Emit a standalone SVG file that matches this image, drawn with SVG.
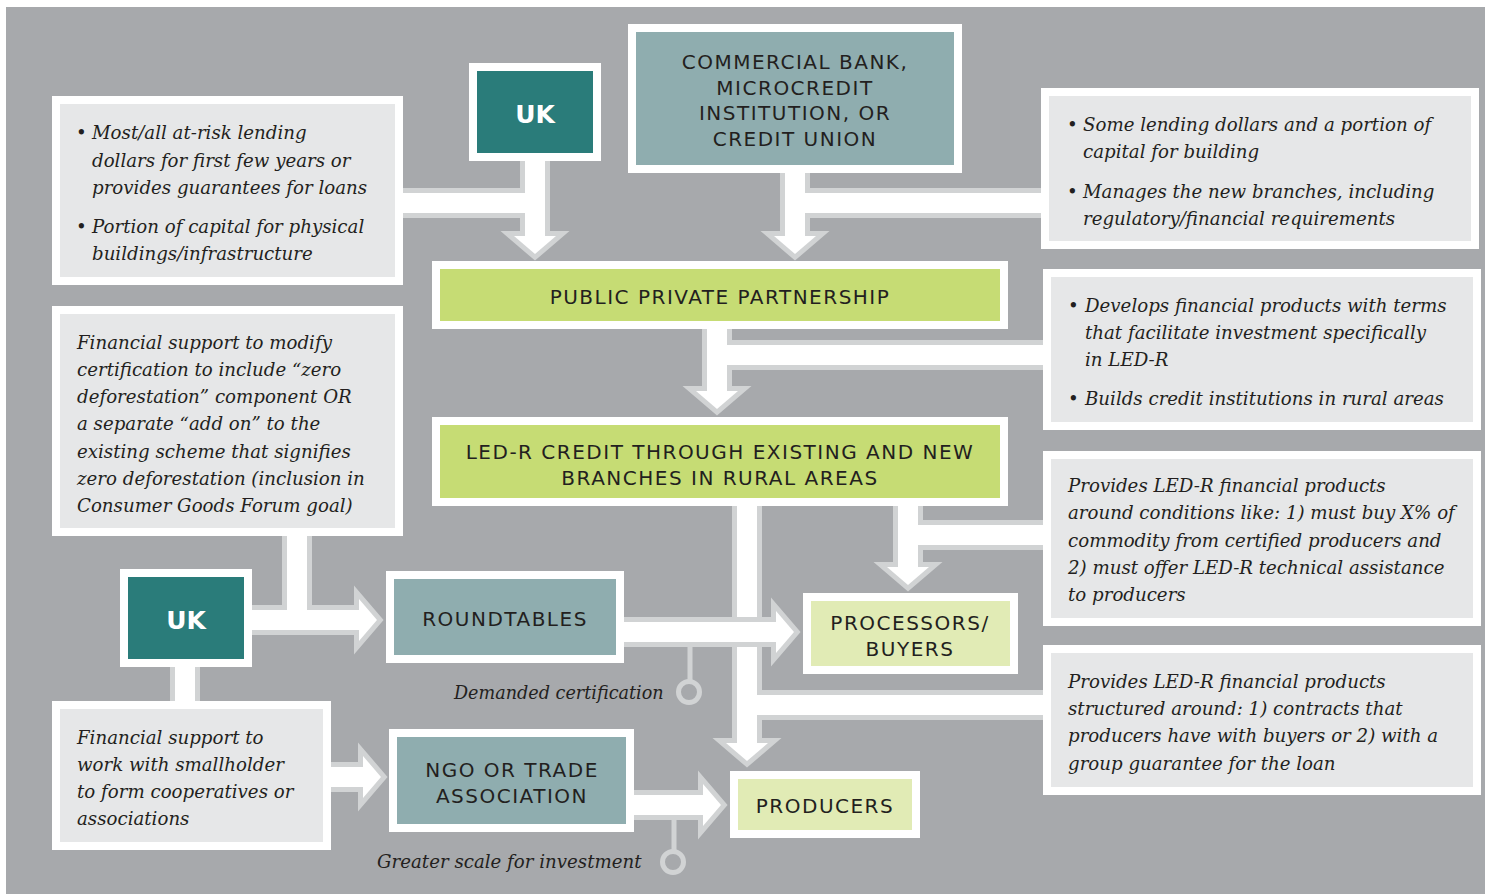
<svg xmlns="http://www.w3.org/2000/svg" xmlns:xlink="http://www.w3.org/1999/xlink" width="1485" height="894" viewBox="0 0 1485 894">
<defs>
<style>
.bg{fill:#a7a9ac}
.box{stroke:#fff;stroke-width:8}
.txtbox{fill:#e6e7e8}
.teal{fill:#2a7c7a}
.slate{fill:#8fadaf}
.green{fill:#c6dc74}
.pale{fill:#e1ebb5}
.bandG{fill:none;stroke:#d1d3d4;stroke-width:30}
.bandW{fill:none;stroke:#fff;stroke-width:20}
.stem{fill:none;stroke:#d1d3d4;stroke-width:5}
.ring{fill:none;stroke:#d1d3d4;stroke-width:5}
.cap{font-family:"DejaVu Sans",sans-serif;font-size:20px;letter-spacing:1.5px;fill:#231f20;text-anchor:middle}
.uk{font-family:"DejaVu Sans",sans-serif;font-size:25px;font-weight:bold;fill:#fff;text-anchor:middle}
.it{font-family:"DejaVu Serif",serif;font-style:italic;font-size:18.2px;fill:#231f20}
.lbl{font-size:17.6px}
</style>
<path id="ah" d="M-21,-18 L21,-18 L0,0 Z"/>
</defs>
<rect class="bg" x="6" y="7" width="1479" height="887"/>

<g id="connectors">
  <g id="main-bands">
    <path class="bandG" d="M400,203 H535 M535,158 V236 M1045,203 H795 M795,170 V236 M717,326 V391 M1045,355 H717 M908,503 V567 M1045,535 H908 M747,503 V743 M1045,705 H747 M297,533 V620 M245,620 H359 M185,664 V704 M328,777 H363 M630,805 H703"/>
    <path class="stem" d="M674,815 V851"/>
    <circle class="ring" cx="673" cy="862" r="10.5"/>
    <use xlink:href="#ah" href="#ah" fill="#d1d3d4" stroke="#d1d3d4" stroke-width="10" transform="translate(535,254)"/>
    <use xlink:href="#ah" href="#ah" fill="#d1d3d4" stroke="#d1d3d4" stroke-width="10" transform="translate(795,254)"/>
    <use xlink:href="#ah" href="#ah" fill="#d1d3d4" stroke="#d1d3d4" stroke-width="10" transform="translate(717,409)"/>
    <use xlink:href="#ah" href="#ah" fill="#d1d3d4" stroke="#d1d3d4" stroke-width="10" transform="translate(908,585)"/>
    <use xlink:href="#ah" href="#ah" fill="#d1d3d4" stroke="#d1d3d4" stroke-width="10" transform="translate(747,761)"/>
    <use xlink:href="#ah" href="#ah" fill="#d1d3d4" stroke="#d1d3d4" stroke-width="10" transform="translate(377,620) rotate(-90)"/>
    <use xlink:href="#ah" href="#ah" fill="#d1d3d4" stroke="#d1d3d4" stroke-width="10" transform="translate(381,777) rotate(-90)"/>
    <use xlink:href="#ah" href="#ah" fill="#d1d3d4" stroke="#d1d3d4" stroke-width="10" transform="translate(721,805) rotate(-90)"/>
    <path class="bandW" d="M400,203 H535 M535,158 V236 M1045,203 H795 M795,170 V236 M717,326 V391 M1045,355 H717 M908,503 V567 M1045,535 H908 M747,503 V743 M1045,705 H747 M297,533 V620 M245,620 H359 M185,664 V704 M328,777 H363 M630,805 H703"/>
    <use xlink:href="#ah" href="#ah" fill="#fff" transform="translate(535,254)"/>
    <use xlink:href="#ah" href="#ah" fill="#fff" transform="translate(795,254)"/>
    <use xlink:href="#ah" href="#ah" fill="#fff" transform="translate(717,409)"/>
    <use xlink:href="#ah" href="#ah" fill="#fff" transform="translate(908,585)"/>
    <use xlink:href="#ah" href="#ah" fill="#fff" transform="translate(747,761)"/>
    <use xlink:href="#ah" href="#ah" fill="#fff" transform="translate(377,620) rotate(-90)"/>
    <use xlink:href="#ah" href="#ah" fill="#fff" transform="translate(381,777) rotate(-90)"/>
    <use xlink:href="#ah" href="#ah" fill="#fff" transform="translate(721,805) rotate(-90)"/>
  </g>
  <g id="roundtables-to-processors">
    <path class="bandG" d="M620,632 H776"/>
    <path class="stem" d="M690,645 V681"/>
    <circle class="ring" cx="689" cy="692" r="10.5"/>
    <use xlink:href="#ah" href="#ah" fill="#d1d3d4" stroke="#d1d3d4" stroke-width="10" transform="translate(794,632) rotate(-90)"/>
    <path class="bandW" d="M620,632 H776"/>
    <use xlink:href="#ah" href="#ah" fill="#fff" transform="translate(794,632) rotate(-90)"/>
  </g>
  <text class="it lbl" x="454" y="699">Demanded certification</text>
  <text class="it" x="377" y="868">Greater scale for investment</text>
</g>

<g id="uk-top"><rect class="box teal" x="473" y="67" width="124" height="90"/><text class="uk" x="535" y="123">UK</text></g>
<g id="bank"><rect class="box slate" x="632" y="28" width="326" height="141"/>
<text class="cap" x="795" y="69">COMMERCIAL BANK,</text><text class="cap" x="795" y="95">MICROCREDIT</text><text class="cap" x="795" y="120">INSTITUTION, OR</text><text class="cap" x="795" y="146">CREDIT UNION</text></g>
<g id="uk-role"><rect class="box txtbox" x="56" y="100" width="343" height="181"/>
<text class="it" x="76" y="139">•</text><text class="it" x="92" y="139">Most/all at-risk lending</text>
<text class="it" x="92" y="167">dollars for first few years or</text>
<text class="it" x="92" y="194">provides guarantees for loans</text>
<text class="it" x="76" y="233">•</text><text class="it" x="92" y="233">Portion of capital for physical</text>
<text class="it" x="92" y="260">buildings/infrastructure</text></g>
<g id="bank-role"><rect class="box txtbox" x="1045" y="92" width="430" height="153"/>
<text class="it" x="1067" y="131">•</text><text class="it" x="1083" y="131">Some lending dollars and a portion of</text>
<text class="it" x="1083" y="158">capital for building</text>
<text class="it" x="1067" y="198">•</text><text class="it" x="1083" y="198">Manages the new branches, including</text>
<text class="it" x="1083" y="225">regulatory/financial requirements</text></g>
<g id="ppp"><rect class="box green" x="436" y="265" width="568" height="60"/><text class="cap" x="720" y="304">PUBLIC PRIVATE PARTNERSHIP</text></g>
<g id="ppp-role"><rect class="box txtbox" x="1047" y="273" width="430" height="153"/>
<text class="it" x="1068" y="312">•</text><text class="it" x="1085" y="312">Develops financial products with terms</text>
<text class="it" x="1085" y="339">that facilitate investment specifically</text>
<text class="it" x="1085" y="366">in LED-R</text>
<text class="it" x="1068" y="405">•</text><text class="it" x="1085" y="405">Builds credit institutions in rural areas</text></g>
<g id="cert-support"><rect class="box txtbox" x="56" y="310" width="343" height="222"/>
<text class="it" x="77" y="349">Financial support to modify</text>
<text class="it" x="77" y="376">certification to include “zero</text>
<text class="it" x="77" y="403">deforestation” component OR</text>
<text class="it" x="77" y="430">a separate “add on” to the</text>
<text class="it" x="77" y="458">existing scheme that signifies</text>
<text class="it" x="77" y="485">zero deforestation (inclusion in</text>
<text class="it" x="77" y="512">Consumer Goods Forum goal)</text></g>
<g id="ledr-credit"><rect class="box green" x="436" y="421" width="568" height="81"/>
<text class="cap" x="720" y="459">LED-R CREDIT THROUGH EXISTING AND NEW</text><text class="cap" x="720" y="485">BRANCHES IN RURAL AREAS</text></g>
<g id="processors-role"><rect class="box txtbox" x="1047" y="455" width="430" height="167"/>
<text class="it" x="1068" y="492">Provides LED-R financial products</text>
<text class="it" x="1068" y="519">around conditions like: 1) must buy X% of</text>
<text class="it" x="1068" y="547">commodity from certified producers and</text>
<text class="it" x="1068" y="574">2) must offer LED-R technical assistance</text>
<text class="it" x="1068" y="601">to producers</text></g>
<g id="uk-bottom"><rect class="box teal" x="124" y="573" width="124" height="90"/><text class="uk" x="186" y="629">UK</text></g>
<g id="roundtables"><rect class="box slate" x="390" y="575" width="230" height="84"/><text class="cap" x="505" y="626">ROUNDTABLES</text></g>
<g id="processors"><rect class="box pale" x="807" y="597" width="207" height="73"/>
<text class="cap" x="910" y="630">PROCESSORS/</text><text class="cap" x="910" y="656">BUYERS</text></g>
<g id="producers-role"><rect class="box txtbox" x="1047" y="649" width="430" height="142"/>
<text class="it" x="1068" y="688">Provides LED-R financial products</text>
<text class="it" x="1068" y="715">structured around: 1) contracts that</text>
<text class="it" x="1068" y="742">producers have with buyers or 2) with a</text>
<text class="it" x="1068" y="770">group guarantee for the loan</text></g>
<g id="smallholder-support"><rect class="box txtbox" x="56" y="705" width="271" height="141"/>
<text class="it" x="77" y="744">Financial support to</text>
<text class="it" x="77" y="771">work with smallholder</text>
<text class="it" x="77" y="798">to form cooperatives or</text>
<text class="it" x="77" y="825">associations</text></g>
<g id="ngo"><rect class="box slate" x="393" y="733" width="237" height="95"/>
<text class="cap" x="512" y="777">NGO OR TRADE</text><text class="cap" x="512" y="803">ASSOCIATION</text></g>
<g id="producers"><rect class="box pale" x="734" y="775" width="182" height="59"/><text class="cap" x="825" y="813">PRODUCERS</text></g>
</svg>
